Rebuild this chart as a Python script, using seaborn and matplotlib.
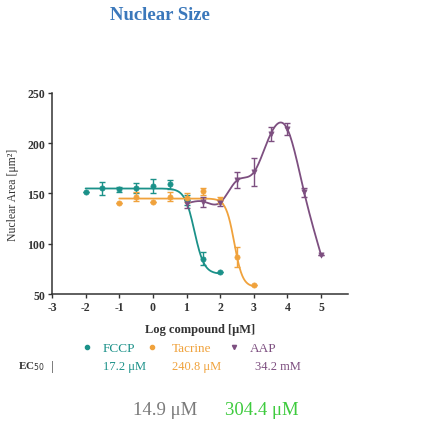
import numpy as np
import pandas as pd
import matplotlib
matplotlib.use("Agg")
import matplotlib.pyplot as plt
import seaborn as sns

# ---- data ----
fccp_x = [-2, -1.5, -1, -0.5, 0, 0.5, 1, 1.5, 2]
fccp_y = [151, 155, 154, 155, 157, 159, 144, 85, 72]
fccp_e = [0, 6, 2.5, 5, 7, 4.5, 5, 6.5, 0]

tac_x = [-1, -0.5, 0, 0.5, 1, 1.5, 2, 2.5, 3]
tac_y = [141, 147, 142, 147, 146, 152, 144, 87, 59]
tac_e = [0, 4, 0, 4, 4, 3, 3, 10, 0]

aap_x = [1, 1.5, 2, 2.5, 3, 3.5, 4, 4.5, 5]
aap_y = [140, 142, 141, 163, 171, 209, 214, 151, 89]
aap_e = [4, 5, 3, 8, 14, 7, 6, 4, 0]

# 4-parameter logistic fit parameters: top, bottom, logEC50, hill
fccp_fit = [155, 70, 1.236, 3.0]
tac_fit = [145, 57, 2.42, 3.5]

names = ["FCCP", "Tacrine", "AAP"]
ec50 = ["17.2 μM", "240.8 μM", "34.2 mM"]
x_ticks = [-3, -2, -1, 0, 1, 2, 3, 4, 5]
y_ticks = [50, 100, 150, 200, 250]

c_teal = "#1b9189"
c_orange = "#f0a23c"
c_purple = "#7d4f80"

sns.set_theme(style="ticks")
plt.rcParams["font.family"] = ["Liberation Serif", "DejaVu Serif"]

fig = plt.figure(figsize=(4.24, 4.27), dpi=100)
ax = fig.add_axes([0.1226, 0.309, 0.698, 0.471])


def four_pl(x, p):
    top, bot, lec, h = p
    return bot + (top - bot) / (1 + 10 ** (h * (x - lec)))


def nat_spline(xs, ys, xq):
    xs = np.asarray(xs, float); ys = np.asarray(ys, float)
    n = len(xs)
    h = np.diff(xs)
    A = np.zeros((n, n)); r = np.zeros(n)
    A[0, 0] = A[-1, -1] = 1
    for i in range(1, n - 1):
        A[i, i - 1] = h[i - 1]; A[i, i] = 2 * (h[i - 1] + h[i]); A[i, i + 1] = h[i]
        r[i] = 6 * ((ys[i + 1] - ys[i]) / h[i] - (ys[i] - ys[i - 1]) / h[i - 1])
    M = np.linalg.solve(A, r)
    out = []
    for q in xq:
        i = min(max(np.searchsorted(xs, q) - 1, 0), n - 2)
        t0 = xs[i + 1] - q; t1 = q - xs[i]
        v = (M[i] * t0 ** 3 + M[i + 1] * t1 ** 3) / (6 * h[i]) \
            + (ys[i] / h[i] - M[i] * h[i] / 6) * t0 + (ys[i + 1] / h[i] - M[i + 1] * h[i] / 6) * t1
        out.append(v)
    return np.array(out)


xf = np.linspace(fccp_x[0], fccp_x[-1], 200)
xt = np.linspace(tac_x[0], tac_x[-1], 200)
xa = np.linspace(aap_x[0], aap_x[-1], 300)
curves = pd.concat([
    pd.DataFrame({"x": xf, "y": four_pl(xf, fccp_fit), "c": "FCCP"}),
    pd.DataFrame({"x": xt, "y": four_pl(xt, tac_fit), "c": "Tacrine"}),
    pd.DataFrame({"x": xa, "y": nat_spline(aap_x, aap_y, xa), "c": "AAP"}),
])
pal = {"FCCP": c_teal, "Tacrine": c_orange, "AAP": c_purple}
sns.lineplot(data=curves, x="x", y="y", hue="c", palette=pal, ax=ax,
             legend=False, lw=1.3, sort=False, estimator=None, units="c")

for xs, ys, es, col, mk in [(fccp_x, fccp_y, fccp_e, c_teal, "o"),
                            (tac_x, tac_y, tac_e, c_orange, "o"),
                            (aap_x, aap_y, aap_e, c_purple, "v")]:
    ax.errorbar(xs, ys, yerr=es, fmt="none", ecolor=col, elinewidth=1.0,
                capsize=2.5, capthick=1.0)
    sns.scatterplot(x=xs, y=ys, color=col, marker=mk, s=14, ax=ax,
                    edgecolor=col, linewidth=0.5, zorder=3)

ax.set_xlim(-3, 5.8)
ax.set_ylim(50, 250)
ax.set_xticks(x_ticks)
ax.set_yticks(y_ticks)
ax.set_xticklabels([str(t) for t in x_ticks], fontsize=8.5, fontweight="bold")
ax.set_yticklabels([str(t) for t in y_ticks], fontsize=8.5, fontweight="bold")
ax.tick_params(length=3, width=1, colors="#333333", pad=2)
for s in ["left", "bottom"]:
    ax.spines[s].set_linewidth(1.1)
    ax.spines[s].set_color("#333333")
ax.spines["top"].set_visible(False)
ax.spines["right"].set_visible(False)
ax.set_xlabel("Log compound [μM]", fontsize=9, fontweight="bold", labelpad=7,
              color="#333333")
ax.set_ylabel("Nuclear Area [μm²]", fontsize=8.5, labelpad=6, color="#333333")

fig.text(160 / 424, 1 - 15 / 427, "Nuclear Size", fontsize=13.5, color="#3b78bb",
         ha="center", va="center", fontweight="bold")

# legend row
ly = 1 - 349 / 427
for mx, tx, col, mk, nm in [(87, 103, c_teal, "o", names[0]),
                            (152, 172, c_orange, "o", names[1]),
                            (234, 250, c_purple, "v", names[2])]:
    fig.lines.append(plt.Line2D([mx / 424], [ly + 0.002], marker=mk, color=col,
                                markersize=3, transform=fig.transFigure, ls="none"))
    fig.text(tx / 424, ly, nm, fontsize=9.5, color=col, ha="left", va="center")

ey = 1 - 367 / 427
fig.text(18 / 424, ey, "EC$_{50}$", fontsize=8, fontweight="bold", color="#333333",
         ha="left", va="center")
fig.text(52 / 424, ey, "|", fontsize=9, color="#333333", ha="center", va="center")
for tx, col, s in [(103, c_teal, ec50[0]), (172, c_orange, ec50[1]), (255, c_purple, ec50[2])]:
    fig.text(tx / 424, ey, s, fontsize=9, color=col, ha="left", va="center")

by = 1 - 411 / 427
fig.text(133 / 424, by, "14.9 μM", fontsize=13.5, color="#7a7a7a", ha="left", va="center")
fig.text(225 / 424, by, "304.4 μM", fontsize=13.5, color="#3ecb3e", ha="left", va="center")

fig.savefig("out.png", dpi=100)
